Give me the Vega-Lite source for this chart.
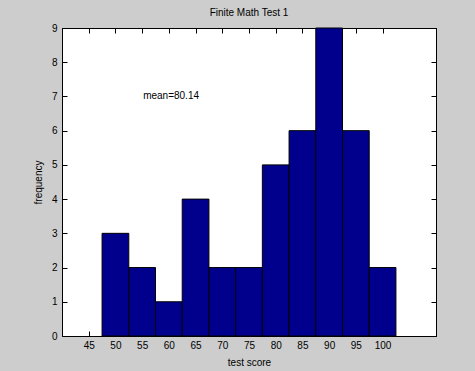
{
  "$schema": "https://vega.github.io/schema/vega-lite/v6.json",
  "autosize": {"type": "none"},
  "padding": {"left": 62, "top": 28, "right": 39, "bottom": 35},
  "width": 374,
  "height": 308,
  "background": "#cdcdcd",
  "title": {"text": "Finite Math Test 1", "fontSize": 10, "font": "Liberation Sans", "fontWeight": "normal", "color": "#000000", "offset": 5, "anchor": "middle"},
  "config": {
    "view": {"stroke": "#000000", "strokeWidth": 1, "fill": "#ffffff"},
    "axis": {"grid": false, "domainColor": "#000000", "tickColor": "#000000", "labelColor": "#000000", "titleColor": "#000000", "labelFont": "Liberation Sans", "titleFont": "Liberation Sans", "labelFontSize": 10, "titleFontSize": 10, "titleFontWeight": "normal"}
  },
  "data": {"values": [
    {"score": 50, "freq": 3},
    {"score": 55, "freq": 2},
    {"score": 60, "freq": 1},
    {"score": 65, "freq": 4},
    {"score": 70, "freq": 2},
    {"score": 75, "freq": 2},
    {"score": 80, "freq": 5},
    {"score": 85, "freq": 6},
    {"score": 90, "freq": 9},
    {"score": 95, "freq": 6},
    {"score": 100, "freq": 2}
  ]},
  "transform": [
    {"calculate": "datum.score - 2.5", "as": "lo"},
    {"calculate": "datum.score + 2.5", "as": "hi"}
  ],
  "layer": [
    {
      "mark": {"type": "rect", "color": "#00008c", "stroke": "#000000", "strokeWidth": 1},
      "encoding": {
        "x": {"field": "lo", "type": "quantitative", "scale": {"domain": [40, 110], "nice": false, "zero": false},
          "axis": {"title": "test score", "values": [45,50,55,60,65,70,75,80,85,90,95,100], "tickSize": -5, "labelPadding": 9, "titlePadding": 7}},
        "x2": {"field": "hi"},
        "y": {"field": "freq", "type": "quantitative", "scale": {"domain": [0, 9], "nice": false},
          "axis": {"title": "frequency", "values": [0,1,2,3,4,5,6,7,8,9], "tickSize": -5, "labelPadding": 10, "titlePadding": 8}},
        "y2": {"datum": 0}
      }
    },
    {
      "data": {"values": [{"x": 55, "y": 7, "t": "mean=80.14"}]},
      "mark": {"type": "text", "align": "left", "baseline": "middle", "font": "Liberation Sans", "fontSize": 10, "color": "#000000", "dx": 1},
      "encoding": {
        "x": {"field": "x", "type": "quantitative", "axis": null},
        "y": {"field": "y", "type": "quantitative", "axis": null},
        "text": {"field": "t"}
      }
    },
    {
      "data": {"values": [{"x": 45, "y": 0}]},
      "mark": {"type": "point", "opacity": 0},
      "encoding": {
        "x": {"field": "x", "type": "quantitative",
          "axis": {"orient": "top", "title": null, "labels": false, "values": [45,50,55,60,65,70,75,80,85,90,95,100], "tickSize": -5}},
        "y": {"field": "y", "type": "quantitative",
          "axis": {"orient": "right", "title": null, "labels": false, "values": [0,1,2,3,4,5,6,7,8,9], "tickSize": -5}}
      }
    }
  ],
  "resolve": {"axis": {"x": "independent", "y": "independent"}}
}
